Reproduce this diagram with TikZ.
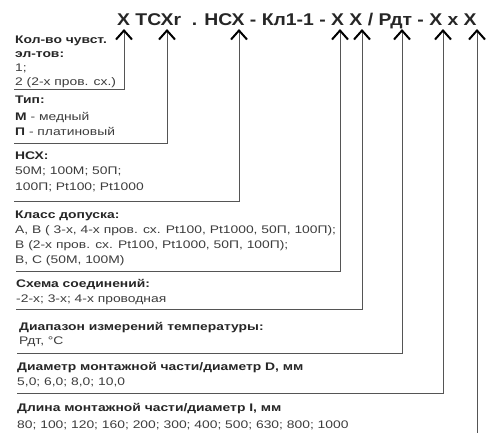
\documentclass[tikz,border=0pt]{standalone}
\usepackage{fontspec}
\setmainfont{Liberation Sans}[FakeStretch=1.26]
\newfontfamily\hdrfont{Liberation Sans}[FakeStretch=1.14]
\usetikzlibrary{arrows.meta}
\definecolor{lbl}{HTML}{262626}
\definecolor{txt}{HTML}{3C3C3C}
\definecolor{ln}{HTML}{555555}
\begin{document}
\begin{tikzpicture}[x=1pt,y=1pt,
  lab/.style={anchor=base west, inner sep=0pt, text=lbl, font=\fontsize{11}{13}\selectfont\bfseries},
  val/.style={anchor=base west, inner sep=0pt, text=txt, font=\fontsize{11}{13}\selectfont},
  ptr/.style={draw=ln, line width=1pt, -{Straight Barb[length=9pt,width=16pt,line width=2pt,color=black]}},
  head/.style={anchor=base west, inner sep=0pt, text=lbl, font=\hdrfont\fontsize{17}{19}\selectfont\bfseries}]
\useasboundingbox (0,0) rectangle (487,-432);

% header
\node[head] (hdr) at (117,-25) {X ТСХr\ \ . НСХ - Кл1-1 - X X / Рдт - X x X};

% arrow tips and corners
\coordinate (t1) at (124,-29); \coordinate (c1) at (14,-89);
\coordinate (t2) at (167,-29); \coordinate (c2) at (14,-143);
\coordinate (t3) at (239,-29); \coordinate (c3) at (14,-201);
\coordinate (t4) at (340,-29); \coordinate (c4) at (16,-271);
\coordinate (t5) at (362,-29); \coordinate (c5) at (16,-309);
\coordinate (t6) at (402,-29); \coordinate (c6) at (17,-353);
\coordinate (t7) at (443,-29); \coordinate (c7) at (17,-393);
\coordinate (t8) at (477,-29); \coordinate (c8) at (477,-433);

\draw[ptr] (c1) -| (t1);
\draw[ptr] (c2) -| (t2);
\draw[ptr] (c3) -| (t3);
\draw[ptr] (c4) -| (t4);
\draw[ptr] (c5) -| (t5);
\draw[ptr] (c6) -| (t6);
\draw[ptr] (c7) -| (t7);
\draw[ptr] (c8) -- (t8);

% box 1
\node[lab] (a1) at (15,-43) {Кол-во чувст.};
\node[lab] (a2) at (15,-57) {эл-тов:};
\node[val] (a3) at (15,-71) {1;};
\node[val] (a4) at (15,-85) {2 (2-х пров. сх.)};
% box 2
\node[lab] (b1) at (15,-103) {Тип:};
\node[val] (b2) at (15,-120) {\textbf{\color{lbl}М} - медный};
\node[val] (b3) at (15,-135) {\textbf{\color{lbl}П} - платиновый};
% box 3
\node[lab] (n1) at (15,-159) {НСХ:};
\node[val] (n2) at (15,-174) {50М; 100М; 50П;};
\node[val] (n3) at (15,-190) {100П; Pt100; Pt1000};
% box 4
\node[lab] (k1) at (15,-218) {Класс допуска:};
\node[val] (k2) at (15,-233) {A, B ( 3-х, 4-х пров. сх. Pt100, Pt1000, 50П, 100П);};
\node[val] (k3) at (15,-248) {B (2-х пров. сх. Pt100, Pt1000, 50П, 100П);};
\node[val] (k4) at (15,-263) {B, C (50M, 100M)};
% box 5
\node[lab] (s1) at (16,-287) {Схема соединений:};
\node[val] (s2) at (16,-302) {-2-х; 3-х; 4-х проводная};
% box 6
\node[lab] (d1) at (19,-330) {Диапазон измерений температуры:};
\node[val] (d2) at (19,-344) {Рдт, °С};
% box 7
\node[lab] (m1) at (17,-370) {Диаметр монтажной части/диаметр D, мм};
\node[val] (m2) at (17,-385) {5,0; 6,0; 8,0; 10,0};
% box 8
\node[lab] (l1) at (17,-411) {Длина монтажной части/диаметр I, мм};
\node[val] (l2) at (17,-428) {80; 100; 120; 160; 200; 300; 400; 500; 630; 800; 1000};
\end{tikzpicture}
\end{document}
